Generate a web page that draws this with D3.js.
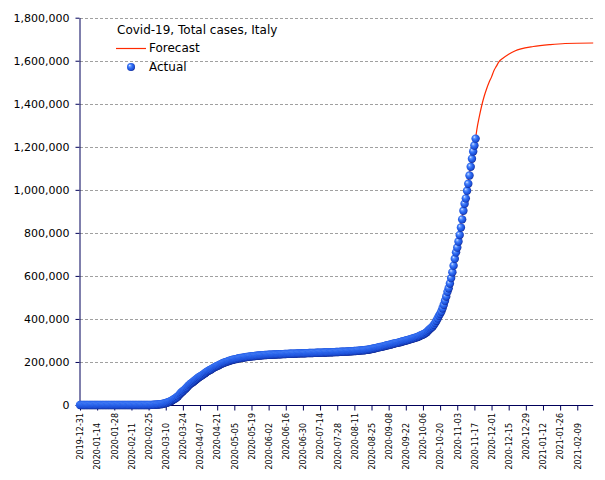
<!DOCTYPE html>
<html><head><meta charset="utf-8">
<script src="https://cdn.jsdelivr.net/npm/d3@7"></script>
<style>
html,body{margin:0;padding:0;background:#fff;}
svg{display:block;font-family:"DejaVu Sans",sans-serif;}
</style></head>
<body>
<svg id="chart" width="605" height="480"></svg>
<script>
// ---- data ----
const title = "Covid-19, Total cases, Italy";
const seriesNames = ["Forecast", "Actual"];
const actualStart = "2019-12-31";
// daily cumulative cases, one value per day from 2019-12-31 to 2020-11-18
const actualValues = [
0,0,0,0,0,0,0,0,0,0,0,0,0,0,0,0,0,0,0,0,0,0,0,0,0,0,0,0,0,0,0,
2,2,2,2,2,2,2,
3,3,3,3,3,3,3,3,3,3,3,3,3,3,3,
20,79,150,229,322,400,650,888,1128,
1694,2036,2502,3089,3858,4636,5883,7375,9172,10149,12462,15113,17660,21157,24747,27980,31506,35713,41035,47021,53578,59138,63927,69176,74386,80539,86498,92472,97689,101739,105792,
110574,115242,119827,124632,128948,132547,135586,139422,143626,147577,152271,156363,159516,162488,165155,168941,172434,175925,178972,181228,183957,187327,189973,192994,195351,197675,199414,201505,203591,205463,
207428,209328,210717,211938,213013,214457,215858,217185,218268,219070,219814,221216,222104,223096,223885,224760,225435,225886,226699,227364,228006,228658,229327,229858,230158,230555,231139,231732,232248,232664,233019,
233197,233515,233836,234013,234531,234801,234998,235278,235561,235763,236142,236305,236651,236989,237290,237500,237828,238159,238011,238275,238499,238720,238833,239410,239706,239961,240136,240310,240436,240578,
240760,240961,241184,241419,241611,241819,241956,242149,242363,242639,242827,243061,243230,243344,243506,243736,243967,244216,244434,244624,244752,245032,245338,245590,245864,246118,246286,246488,246776,247158,247537,
247832,248070,248229,248419,248803,249204,249756,250103,250566,250825,251237,251713,252235,252809,253438,253915,254235,254636,255278,256118,257065,258136,259345,260298,261174,262540,263949,265409,266853,268218,269214,
270189,271515,272912,274644,276338,277634,278784,280153,281583,283180,284796,286297,287753,288761,289990,291442,293025,294932,296569,298156,299506,300897,302537,304323,306235,308104,309870,311364,313011,314861,
317409,319908,322751,325329,327586,330263,333940,338398,343770,349494,354950,359569,365467,372799,381602,391611,402536,414241,423578,434449,449648,465726,484869,504509,525782,542789,564778,589766,616595,647674,679430,
709335,731588,759829,790377,824879,862681,902490,935104,960373,995463,1028424,1066401,1107303,1144552,1178529,1205881,1238072
];
// forecast curve
const forecastDates = [
"2020-09-10","2020-09-20","2020-10-01","2020-10-10","2020-10-20","2020-10-25","2020-10-30",
"2020-11-04","2020-11-09","2020-11-14","2020-11-18","2020-11-19","2020-11-21","2020-11-23",
"2020-11-25","2020-11-27","2020-11-29","2020-12-01","2020-12-03","2020-12-05","2020-12-07",
"2020-12-10","2020-12-15","2020-12-20","2020-12-25","2021-01-04","2021-01-18","2021-01-30","2021-02-22"
];
const forecastValues = [
266000,281000,304000,338000,418000,500000,625000,
775000,945000,1110000,1240000,1280000,1340000,1392000,
1435000,1470000,1500000,1525000,1555000,1575000,1595000,
1610000,1630000,1645000,1655000,1666000,1675000,1680000,1682500
];
const xTickLabels = [
"2019-12-31","2020-01-14","2020-01-28","2020-02-11","2020-02-25","2020-03-10","2020-03-24",
"2020-04-07","2020-04-21","2020-05-05","2020-05-19","2020-06-02","2020-06-16","2020-06-30",
"2020-07-14","2020-07-28","2020-08-11","2020-08-25","2020-09-08","2020-09-22","2020-10-06",
"2020-10-20","2020-11-03","2020-11-17","2020-12-01","2020-12-15","2020-12-29","2021-01-12",
"2021-01-26","2021-02-09"
];
const yTickValues = [0,200000,400000,600000,800000,1000000,1200000,1400000,1600000,1800000];
const xDomain = ["2019-12-31","2021-02-22"];

// ---- drawing ----
(function () {
const parse = d3.utcParse("%Y-%m-%d");
const svg = d3.select("#chart");
const axisColor = "#00005a";
const pLeft = 80, pRight = 593.2, pTop = 17.7, pBottom = 405;

const x = d3.scaleUtc().domain(xDomain.map(parse)).range([pLeft, pRight]);
const y = d3.scaleLinear().domain([0, 1800000]).range([pBottom, pTop]);

const defs = svg.append("defs");
const grad = defs.append("radialGradient").attr("id","ball")
  .attr("cx","45%").attr("cy","45%").attr("r","58%").attr("fx","33%").attr("fy","30%");
grad.append("stop").attr("offset","0%").attr("stop-color","#eef4ff");
grad.append("stop").attr("offset","22%").attr("stop-color","#6a9cff");
grad.append("stop").attr("offset","50%").attr("stop-color","#2f6cf2");
grad.append("stop").attr("offset","80%").attr("stop-color","#1c4fd8");
grad.append("stop").attr("offset","100%").attr("stop-color","#0a1f86");

// grid
svg.append("g").selectAll("line").data(yTickValues.filter(v => v > 0)).join("line")
  .attr("x1", pLeft).attr("x2", pRight)
  .attr("y1", d => Math.round(y(d)) + 0.5).attr("y2", d => Math.round(y(d)) + 0.5)
  .attr("stroke", "#a0a0a0").attr("stroke-width", 1).attr("stroke-dasharray", "3,2");

// y axis
const yAxis = svg.append("g").attr("transform", `translate(${pLeft - 0.5},0)`)
  .call(d3.axisLeft(y).tickValues(yTickValues).tickFormat(d3.format(",")).tickSize(4).tickSizeOuter(0).tickPadding(6));
yAxis.selectAll("path,line").attr("stroke", axisColor);
yAxis.selectAll("text").attr("font-family","DejaVu Sans").attr("font-size", 11).attr("fill","#000");

// x axis
const xTicks = xTickLabels.map(parse);
const xAxis = svg.append("g").attr("transform", `translate(0,${pBottom + 0.5})`)
  .call(d3.axisBottom(x).tickValues(xTicks).tickSize(5).tickSizeOuter(0).tickFormat(d3.utcFormat("%Y-%m-%d")));
xAxis.select(".domain").attr("d", `M${pLeft - 1},0H${pRight}`);
xAxis.selectAll("path,line").attr("stroke", axisColor);
xAxis.selectAll("text")
  .attr("font-family","DejaVu Sans").attr("font-size", 8).attr("fill","#000")
  .attr("text-anchor","end")
  .attr("transform", (d, i) => `translate(0,${(i % 2 ? 18 : 8) - 0.5}) rotate(-90)`)
  .attr("x", 0).attr("y", 0).attr("dy", "0.35em");

// forecast line
const fData = forecastDates.map((d, i) => ({date: parse(d), value: forecastValues[i]}));
svg.append("path").datum(fData)
  .attr("fill","none").attr("stroke","#ff2a00").attr("stroke-width",1.2)
  .attr("d", d3.line().x(d => x(d.date)).y(d => y(d.value)).curve(d3.curveMonotoneX));

// actual points
const start = parse(actualStart);
const aData = actualValues.map((v, i) => ({date: d3.utcDay.offset(start, i), value: v}));
svg.append("g").selectAll("circle").data(aData).join("circle")
  .attr("cx", d => x(d.date)).attr("cy", d => y(d.value)).attr("r", 4.2)
  .attr("fill", "url(#ball)");

// legend
const lg = svg.append("g");
lg.append("text").attr("x", 117).attr("y", 34).attr("font-size", 12).attr("fill","#000").text(title);
lg.append("line").attr("x1", 116).attr("x2", 146).attr("y1", 48.5).attr("y2", 48.5)
  .attr("stroke","#ff2a00").attr("stroke-width",1.2);
lg.append("text").attr("x", 149).attr("y", 52).attr("font-size", 12).attr("fill","#000").text(seriesNames[0]);
lg.append("circle").attr("cx", 131).attr("cy", 67).attr("r", 4).attr("fill","url(#ball)");
lg.append("text").attr("x", 149).attr("y", 71).attr("font-size", 12).attr("fill","#000").text(seriesNames[1]);
})();
</script>
</body></html>
